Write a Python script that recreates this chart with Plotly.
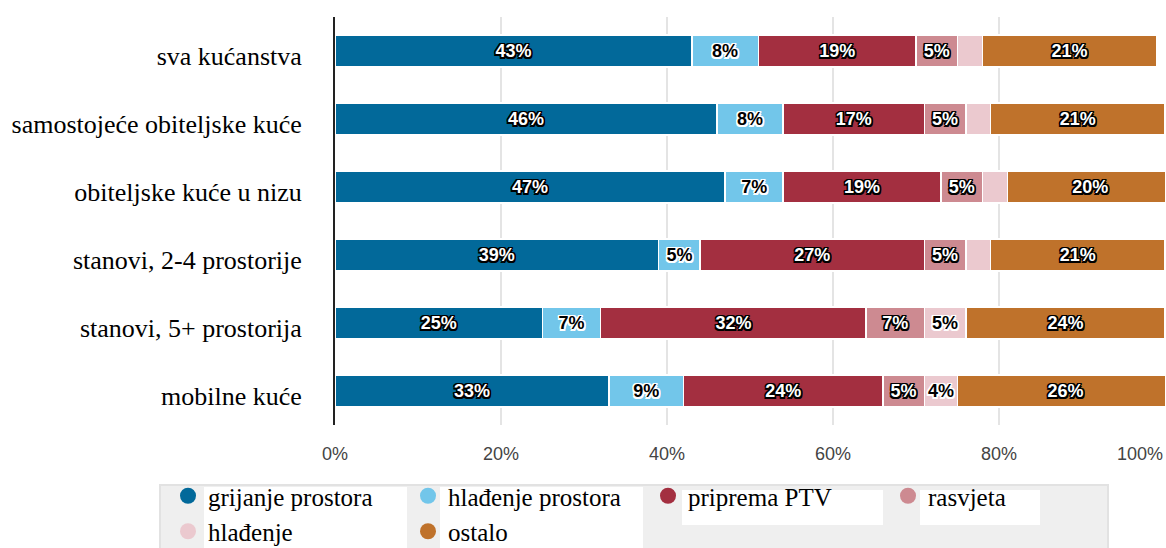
import plotly.graph_objects as go

# Household energy end-use shares (%)
categories = [
    "sva kućanstva",
    "samostojeće obiteljske kuće",
    "obiteljske kuće u nizu",
    "stanovi, 2-4 prostorije",
    "stanovi, 5+ prostorija",
    "mobilne kuće",
]
series_names = ["grijanje prostora", "hlađenje prostora", "priprema PTV",
                "rasvjeta", "hlađenje", "ostalo"]
grijanje_prostora = [43, 46, 47, 39, 25, 33]
hladenje_prostora = [8, 8, 7, 5, 7, 9]
priprema_ptv = [19, 17, 19, 27, 32, 24]
rasvjeta = [5, 5, 5, 5, 7, 5]
hladenje = [3, 3, 3, 3, 5, 4]
ostalo = [21, 21, 20, 21, 24, 26]
tick_values = [0, 20, 40, 60, 80, 100]
tick_labels = ["0%", "20%", "40%", "60%", "80%", "100%"]

series_values = [grijanje_prostora, hladenje_prostora, priprema_ptv,
                 rasvjeta, hladenje, ostalo]
colors = ["#02699a", "#72c6ea", "#a32f40", "#cd8a91", "#ebc9cf", "#bf722b"]
light_series = {"hlađenje prostora", "hlađenje"}

W, H = 1166, 548
ML, MR, MT, MB = 335, 1, 17, 123
PW, PH = W - ML - MR, H - MT - MB

SERIF = "Liberation Serif, Times New Roman, serif"
SANS = "Liberation Sans, Arial, sans-serif"


def outline(color):
    d = 1.5
    offsets = [(-d, -d), (d, -d), (-d, d), (d, d), (0, d), (0, -d), (d, 0), (-d, 0)]
    return ", ".join(f"{dx}px {dy}px 0px {color}" for dx, dy in offsets)


fig = go.Figure()

for name, vals, col in zip(series_names, series_values, colors):
    light = name in light_series
    fig.add_trace(go.Bar(
        name=name,
        y=categories,
        x=vals,
        orientation="h",
        marker=dict(color=col, line=dict(color="white", width=1.5)),
        text=[f"{v}%" if v >= 4 else "" for v in vals],
        textposition="inside",
        insidetextanchor="middle",
        textangle=0,
        constraintext="none",
        textfont=dict(family=SANS, size=18, weight="bold",
                      color="black" if light else "white",
                      shadow=outline("white" if light else "black")),
        showlegend=False,
        hoverinfo="skip",
    ))

# circular legend keys
for name, col in zip(series_names, colors):
    fig.add_trace(go.Scatter(
        x=[None], y=[None], mode="markers", name=name,
        marker=dict(symbol="circle", size=16, color=col),
        showlegend=True,
    ))


def px_x(px):
    return (px - ML) / PW


def px_y(py):
    return (H - MB - py) / PH


shapes = [
    # legend panel
    dict(type="rect", xref="paper", yref="paper",
         x0=px_x(160), x1=px_x(1108), y0=px_y(560), y1=px_y(485),
         fillcolor="#efefef", line=dict(color="#e2e2e2", width=2), layer="below"),
]
for x0, x1, y0, y1 in [(204, 407, 487, 560), (440, 643, 487, 560),
                       (682, 883, 490, 525), (920, 1040, 490, 525)]:
    shapes.append(dict(type="rect", xref="paper", yref="paper",
                       x0=px_x(x0), x1=px_x(x1), y0=px_y(y1), y1=px_y(y0),
                       fillcolor="white", line=dict(width=0), layer="below"))

fig.update_layout(
    width=W, height=H,
    margin=dict(l=ML, r=MR, t=MT, b=MB, pad=0, autoexpand=False),
    barmode="stack",
    bargap=0.53,
    plot_bgcolor="white",
    paper_bgcolor="white",
    shapes=shapes,
    showlegend=True,
    legend=dict(
        orientation="h",
        traceorder="normal",
        x=px_x(168), y=px_y(473),
        xanchor="left", yanchor="top",
        bgcolor="rgba(0,0,0,0)",
        borderwidth=0,
        font=dict(family=SERIF, size=25, color="black"),
        entrywidth=195, entrywidthmode="pixels",
        itemsizing="trace",
        tracegroupgap=0,
    ),
    xaxis=dict(
        range=[0, 100],
        tickvals=tick_values,
        ticktext=tick_labels[:-1] + [""],
        showgrid=True, gridcolor="#e4e4e4", gridwidth=2,
        zeroline=False, showline=False,
        ticks="",
        ticklabelstandoff=16,
        tickfont=dict(family=SANS, size=18, color="#444444"),
        fixedrange=True,
    ),
    yaxis=dict(
        categoryorder="array", categoryarray=categories,
        autorange="reversed",
        showline=True, linecolor="#222222", linewidth=2,
        showgrid=False, ticks="",
        ticklabelstandoff=26,
        ticklabelshift=-5,
        tickfont=dict(family=SERIF, size=26, color="black"),
        fixedrange=True,
    ),
    annotations=[dict(
        x=tick_values[-1], y=0, xref="x", yref="paper",
        text=tick_labels[-1], showarrow=False,
        xanchor="right", yanchor="top", yshift=-17,
        font=dict(family=SANS, size=18, color="#444444"),
    )],
)

fig.write_html("out.html")
